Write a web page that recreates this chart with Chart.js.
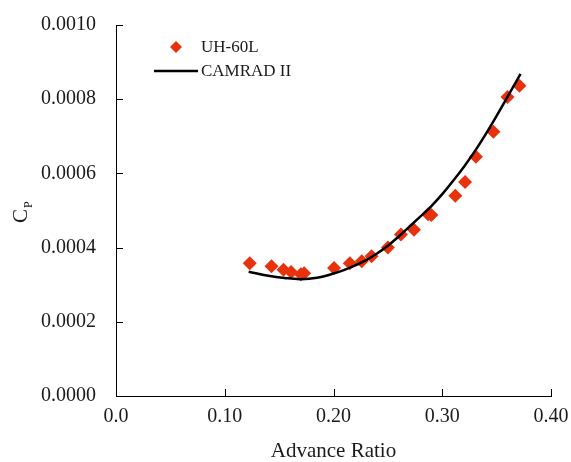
<!DOCTYPE html>
<html>
<head>
<meta charset="utf-8">
<script src="https://cdn.jsdelivr.net/npm/chart.js@4.4.1/dist/chart.umd.min.js"></script>
<style>
  html, body { margin: 0; padding: 0; background: #fff; }
  #wrap { width: 571px; height: 462px; position: relative; }
</style>
</head>
<body>
<div id="wrap"><canvas id="cp-chart"></canvas></div>
<script>
// Données mesurées (UH-60L)
const testMu = [0.123, 0.143, 0.154, 0.161, 0.170, 0.173, 0.2005, 0.215, 0.226, 0.235,
  0.250, 0.262, 0.274, 0.287, 0.290, 0.312, 0.321, 0.331, 0.347, 0.360, 0.371];
const testCp = [3.58e-4, 3.50e-4, 3.40e-4, 3.34e-4, 3.28e-4, 3.31e-4, 3.45e-4, 3.58e-4, 3.63e-4, 3.77e-4,
  4.00e-4, 4.35e-4, 4.48e-4, 4.90e-4, 4.88e-4, 5.40e-4, 5.77e-4, 6.45e-4, 7.12e-4, 8.06e-4, 8.36e-4];

// Prédiction CAMRAD II
const camradMu = [0.122, 0.14, 0.155, 0.17, 0.185, 0.20, 0.21, 0.22, 0.23, 0.24, 0.25,
  0.26, 0.27, 0.28, 0.29, 0.30, 0.31, 0.32, 0.33, 0.34, 0.35, 0.36, 0.372];
const camradCp = [3.35e-4, 3.24e-4, 3.18e-4, 3.15e-4, 3.19e-4, 3.30e-4, 3.40e-4, 3.52e-4, 3.66e-4, 3.84e-4, 4.05e-4,
  4.30e-4, 4.57e-4, 4.84e-4, 5.12e-4, 5.44e-4, 5.80e-4, 6.18e-4, 6.60e-4, 7.06e-4, 7.55e-4, 8.06e-4, 8.68e-4];

// Graduations
const xTicks = [0, 0.1, 0.2, 0.3, 0.4];
const xTickLabels = ["0.0", "0.10", "0.20", "0.30", "0.40"];
const yTicks = [0, 0.0002, 0.0004, 0.0006, 0.0008, 0.0010];
const yTickLabels = ["0.0000", "0.0002", "0.0004", "0.0006", "0.0008", "0.0010"];

const serif = "'Liberation Serif', 'Times New Roman', serif";
const red = "#e8320e";

// Petits traits de graduation vers l'intérieur + légende + titre Y
const decorPlugin = {
  id: "decor",
  afterDraw(chart) {
    const ctx = chart.ctx;
    const xs = chart.scales.x;
    const ys = chart.scales.y;
    const area = chart.chartArea;
    ctx.save();
    ctx.strokeStyle = "#000";
    ctx.lineWidth = 1;
    xTicks.forEach((v) => {
      const px = Math.round(xs.getPixelForValue(v)) + 0.5;
      ctx.beginPath();
      ctx.moveTo(px, area.bottom);
      ctx.lineTo(px, area.bottom - 7);
      ctx.stroke();
    });
    yTicks.forEach((v) => {
      const py = Math.round(ys.getPixelForValue(v)) + 0.5;
      ctx.beginPath();
      ctx.moveTo(area.left, py);
      ctx.lineTo(area.left + 7, py);
      ctx.stroke();
    });

    // Légende
    ctx.fillStyle = red;
    ctx.beginPath();
    ctx.moveTo(176, 41);
    ctx.lineTo(182, 47);
    ctx.lineTo(176, 53);
    ctx.lineTo(170, 47);
    ctx.closePath();
    ctx.fill();
    ctx.strokeStyle = "#000";
    ctx.lineWidth = 2.5;
    ctx.beginPath();
    ctx.moveTo(154, 71);
    ctx.lineTo(198, 71);
    ctx.stroke();
    ctx.fillStyle = "#1a1a1a";
    ctx.font = "17px " + serif;
    ctx.textBaseline = "middle";
    ctx.textAlign = "left";
    ctx.fillText("UH-60L", 201, 48);
    ctx.fillText("CAMRAD II", 201, 72);

    // Titre de l'axe Y : C avec indice P
    ctx.translate(27, 216);
    ctx.rotate(-Math.PI / 2);
    ctx.font = "21px " + serif;
    ctx.textBaseline = "alphabetic";
    ctx.fillText("C", -7, 0);
    ctx.font = "12px " + serif;
    ctx.fillText("P", 8, 5);
    ctx.restore();
  },
};

const ctx = document.getElementById("cp-chart").getContext("2d");
new Chart(ctx, {
  type: "scatter",
  data: {
    datasets: [
      {
        label: "UH-60L",
        data: testMu.map((x, i) => ({ x: x, y: testCp[i] })),
        pointStyle: "rectRot",
        pointRadius: 7,
        backgroundColor: red,
        borderColor: red,
        borderWidth: 0,
        showLine: false,
        order: 1,
      },
      {
        label: "CAMRAD II",
        data: camradMu.map((x, i) => ({ x: x, y: camradCp[i] })),
        showLine: true,
        borderColor: "#000",
        borderWidth: 2.5,
        pointRadius: 0,
        tension: 0.4,
        order: 0,
      },
    ],
  },
  options: {
    responsive: true,
    maintainAspectRatio: false,
    animation: false,
    layout: { padding: { top: 25, right: 20, left: 0, bottom: 0 } },
    plugins: {
      legend: { display: false },
      tooltip: { enabled: false },
    },
    scales: {
      x: {
        type: "linear",
        min: 0,
        max: 0.4,
        afterBuildTicks: (s) => { s.ticks = xTicks.map((v) => ({ value: v })); },
        afterFit: (s) => { s.height = 66; },
        grid: { display: false },
        border: { display: true, color: "#000", width: 1 },
        ticks: {
          color: "#1a1a1a",
          padding: 1,
          maxRotation: 0,
          font: { family: serif, size: 20 },
          callback: (v) => xTickLabels[xTicks.indexOf(v)],
        },
        title: {
          display: true,
          text: "Advance Ratio",
          color: "#1a1a1a",
          font: { family: serif, size: 21, lineHeight: 1 },
          padding: { top: 20, bottom: 0 },
        },
      },
      y: {
        type: "linear",
        min: 0,
        max: 0.001,
        afterBuildTicks: (s) => { s.ticks = yTicks.map((v) => ({ value: v })); },
        afterFit: (s) => { s.width = 116; },
        grid: { display: false },
        border: { display: true, color: "#000", width: 1 },
        ticks: {
          color: "#1a1a1a",
          padding: 12,
          font: { family: serif, size: 20 },
          callback: (v) => yTickLabels[yTicks.findIndex((t) => Math.abs(t - v) < 1e-9)],
        },
      },
    },
  },
  plugins: [decorPlugin],
});
</script>
</body>
</html>
